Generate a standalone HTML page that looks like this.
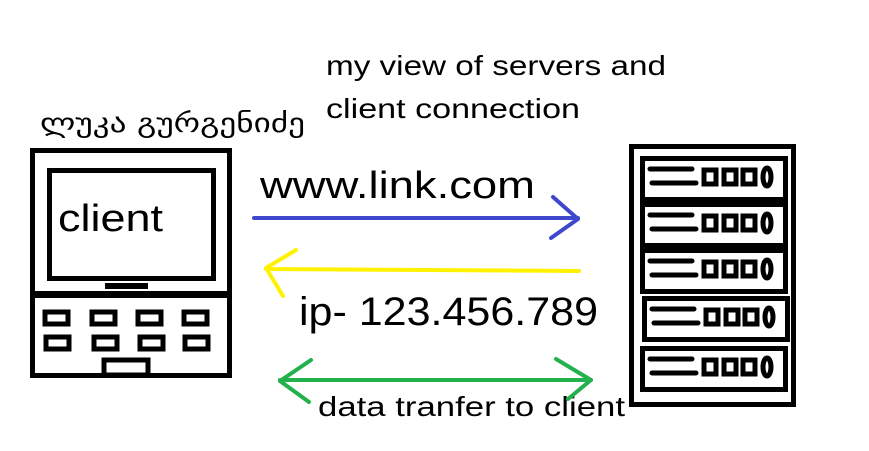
<!DOCTYPE html>
<html><head><meta charset="utf-8"><style>
html,body{margin:0;padding:0;background:#fff;}
svg{display:block}
text{font-family:"Liberation Sans","DejaVu Sans",sans-serif;fill:#000}
</style></head><body>
<svg width="869" height="451" viewBox="0 0 869 451" xmlns="http://www.w3.org/2000/svg">
<rect width="869" height="451" fill="#fff"/>
<text x="326" y="75" font-size="28" textLength="340" lengthAdjust="spacingAndGlyphs">my view of servers and</text>
<text x="326" y="118" font-size="28" textLength="254" lengthAdjust="spacingAndGlyphs">client connection</text>
<text x="40" y="132" font-size="26" textLength="265" lengthAdjust="spacingAndGlyphs" style='font-family:"DejaVu Sans",sans-serif'>ლუკა გურგენიძე</text>
<!-- laptop -->
<g fill="none" stroke="#000" stroke-width="5">
<rect x="32.5" y="150.5" width="197" height="143"/>
<rect x="49.5" y="170.5" width="164" height="108"/>
<rect x="32.5" y="295.5" width="197" height="80"/>
<rect x="45" y="312" width="23" height="12"/>
<rect x="92" y="312" width="23" height="12"/>
<rect x="138" y="312" width="23" height="12"/>
<rect x="184" y="312" width="23" height="12"/>
<rect x="46" y="337" width="23" height="12"/>
<rect x="94" y="337" width="23" height="12"/>
<rect x="140" y="337" width="23" height="12"/>
<rect x="185" y="337" width="23" height="12"/>
<rect x="104" y="360" width="44" height="15"/>
</g>
<rect x="105" y="283" width="43" height="6" fill="#000"/>
<text x="58" y="231" font-size="38" textLength="105" lengthAdjust="spacingAndGlyphs">client</text>
<!-- server -->
<g fill="none" stroke="#000" stroke-width="5">
<rect x="631.5" y="146.5" width="162" height="258"/>
<g id="u">
<rect x="642.5" y="158.5" width="143" height="41"/>
<line x1="650" y1="169" x2="692" y2="169" stroke-linecap="round"/>
<line x1="652" y1="183" x2="696" y2="183" stroke-linecap="round"/>
<rect x="704" y="170" width="12" height="14"/>
<rect x="724" y="170" width="12" height="14"/>
<rect x="743" y="170" width="12" height="14"/>
<ellipse cx="767" cy="177" rx="4" ry="9"/>
</g>
<use href="#u" y="46"/>
<use href="#u" y="92"/>
<use href="#u" x="2" y="140"/>
<use href="#u" y="190"/>
</g>
<text x="260" y="198" font-size="38" textLength="275" lengthAdjust="spacingAndGlyphs">www.link.com</text>
<text x="299" y="325" font-size="40" textLength="299" lengthAdjust="spacingAndGlyphs">ip- 123.456.789</text>
<text x="318" y="416" font-size="28" textLength="307" lengthAdjust="spacingAndGlyphs">data tranfer to client</text>
<g fill="none" stroke-width="4" stroke-linecap="round" stroke-linejoin="round">
<path d="M254 218 L578 218 M553 197 L578 219 L551 238" stroke="#3f48cc"/>
<path d="M579 271 L266 269 M296 250 L266 268 L283 296" stroke="#fff200"/>
<path d="M280 380 L591 380 M311 360 L280 381 L309 402 M556 359 L591 380 L568 399" stroke="#22b14c"/>
</g>
</svg>
</body></html>
